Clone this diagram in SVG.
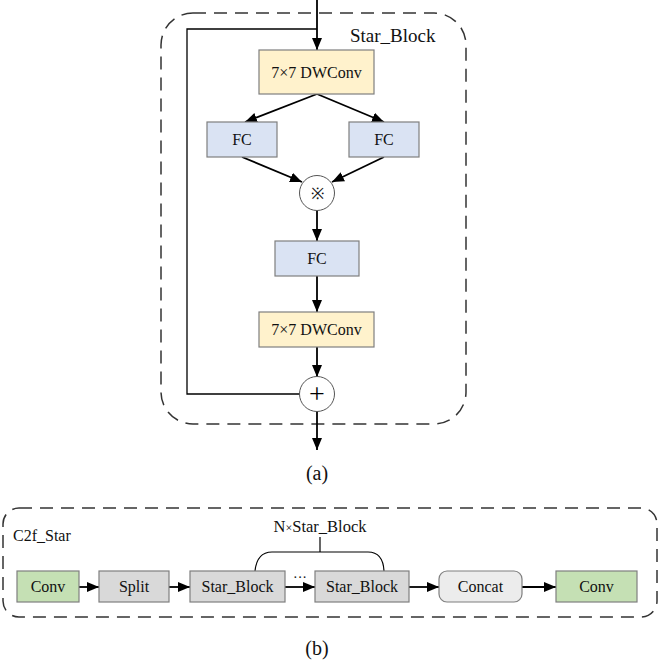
<svg xmlns="http://www.w3.org/2000/svg" width="660" height="664" viewBox="0 0 660 664">
<defs>
<marker id="ah" viewBox="0 0 12 10" refX="12" refY="5" markerWidth="12" markerHeight="10" markerUnits="userSpaceOnUse" orient="auto">
<path d="M0,0 L12,5 L0,10 Z" fill="#000"/>
</marker>
</defs>
<style>
text{font-family:"Liberation Serif","Times New Roman",serif;fill:#111}
.bx{stroke:#7f7f7f;stroke-width:1.2}
.yel{fill:#fff2cc}
.blu{fill:#dae3f3}
.gry{fill:#d9d9d9}
.grn{fill:#c5e0b4}
.lgr{fill:#ececec}
.lbl{font-size:16px;text-anchor:middle}
.dash{fill:none;stroke:#333;stroke-width:1.5;stroke-dasharray:13 8}
.arr{fill:none;stroke:#000;stroke-width:1.8;marker-end:url(#ah)}
.circ{fill:#fff;stroke:#555;stroke-width:1}
</style>
<rect x="161" y="13" width="305" height="411" rx="32" class="dash"/>
<text x="350" y="42" font-size="19">Star_Block</text>
<rect x="3" y="508" width="654" height="109" rx="16" class="dash"/>
<text x="13" y="541" font-size="16">C2f_Star</text>
<g id="connectors">
<line x1="317" y1="0" x2="317" y2="50" class="arr"/>
<polyline points="317,29 187,29 187,394 300,394" fill="none" stroke="#000" stroke-width="1.3"/>
<line x1="317" y1="94" x2="245" y2="122" class="arr"/>
<line x1="317" y1="94" x2="384" y2="122" class="arr"/>
<line x1="242" y1="157" x2="302" y2="182" class="arr"/>
<line x1="384" y1="157" x2="332" y2="182" class="arr"/>
<line x1="317" y1="211" x2="317" y2="241" class="arr"/>
<line x1="317" y1="276" x2="317" y2="312" class="arr"/>
<line x1="317" y1="347" x2="317" y2="377" class="arr"/>
<line x1="317" y1="411" x2="317" y2="450" class="arr"/>
<line x1="79" y1="587" x2="99" y2="587" class="arr"/>
<line x1="169" y1="587" x2="190" y2="587" class="arr"/>
<line x1="285" y1="587" x2="315" y2="587" class="arr"/>
<line x1="409" y1="587" x2="439" y2="587" class="arr"/>
<line x1="522" y1="587" x2="556" y2="587" class="arr"/>
<path d="M255,571 Q257,552 272,552 L368,552 Q383,552 384,571" fill="none" stroke="#000" stroke-width="1.2"/>
<line x1="320" y1="552" x2="320" y2="537" stroke="#000" stroke-width="1.2"/>
</g>
<g id="dw1"><rect x="259" y="50" width="115" height="44" class="bx yel"/><text x="316.5" y="78" class="lbl">7×7 DWConv</text></g>
<g id="fc1"><rect x="207" y="122" width="70" height="35" class="bx blu"/><text x="242" y="145" class="lbl">FC</text></g>
<g id="fc2"><rect x="349" y="122" width="70" height="35" class="bx blu"/><text x="384" y="145" class="lbl">FC</text></g>
<g id="mul"><circle cx="317" cy="193" r="17.5" class="circ"/><text x="317" y="199" class="lbl" font-size="17">※</text></g>
<g id="fc3"><rect x="275" y="241" width="84" height="35" class="bx blu"/><text x="317" y="264" class="lbl">FC</text></g>
<g id="dw2"><rect x="259" y="312" width="115" height="35" class="bx yel"/><text x="316.5" y="335" class="lbl">7×7 DWConv</text></g>
<g id="add"><circle cx="317" cy="394" r="17.5" class="circ"/><text x="317" y="403" class="lbl" style="font-size:28px;fill:#000">+</text></g>
<text x="317" y="480" font-size="20" text-anchor="middle">(a)</text>
<g id="conv1"><rect x="17" y="571" width="62" height="31" class="bx grn"/><text x="48" y="592" class="lbl">Conv</text></g>
<g id="split"><rect x="99" y="571" width="70" height="31" class="bx gry"/><text x="134" y="592" class="lbl">Split</text></g>
<g id="sb1"><rect x="190" y="571" width="95" height="31" class="bx gry"/><text x="237.5" y="592" class="lbl">Star_Block</text></g>
<text x="300" y="582" font-size="14" text-anchor="middle">···</text>
<g id="sb2"><rect x="315" y="571" width="94" height="31" class="bx gry"/><text x="362" y="592" class="lbl">Star_Block</text></g>
<g id="concat"><rect x="439" y="571" width="83" height="31" rx="8" class="bx lgr"/><text x="480.5" y="592" class="lbl">Concat</text></g>
<g id="conv2"><rect x="556" y="571" width="81" height="31" class="bx grn"/><text x="596.5" y="592" class="lbl">Conv</text></g>
<text x="320" y="532" font-size="16.5" text-anchor="middle">N<tspan font-size="12">×</tspan>Star_Block</text>
<text x="317" y="655" font-size="20" text-anchor="middle">(b)</text>
</svg>
